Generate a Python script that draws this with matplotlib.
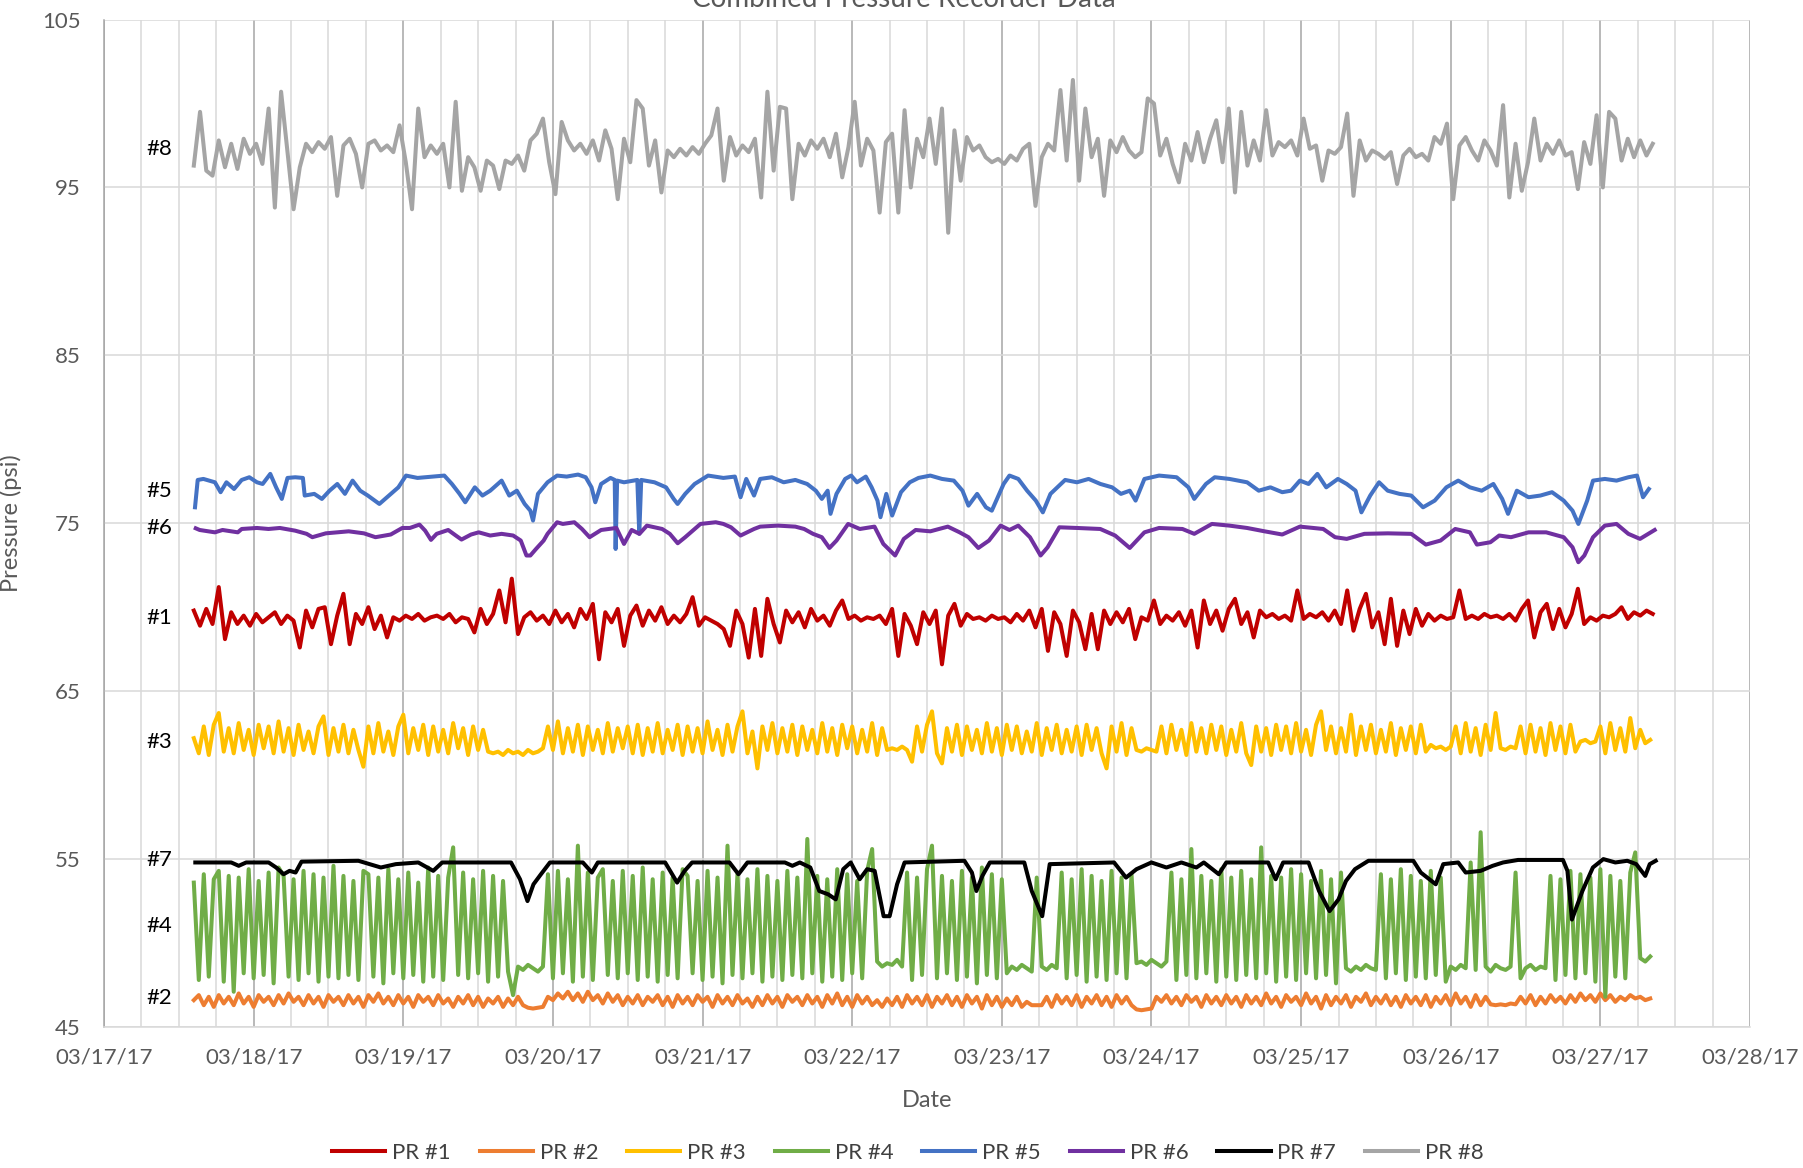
import datetime as dt
import numpy as np
import matplotlib
matplotlib.use("Agg")
import matplotlib.pyplot as plt
import matplotlib.dates as mdates

plt.rcParams['font.family'] = ['Lato', 'DejaVu Sans']

# sampling: first sample 0.6 day after 03/17/17
T_START = 0.6
STEP_FAST = 1 / 30   # PR #2, #3, #4
STEP_HOUR = 1 / 24   # PR #1, #8

PR1 = [
    69.8, 68.9, 69.9, 69.0, 71.2, 68.1, 69.7, 69.0, 69.5, 68.9, 69.6, 69.1, 69.4, 69.7, 69.0, 69.5, 69.2, 67.6, 69.8, 68.8, 69.9, 70.0, 67.8, 69.5,
    70.8, 67.8, 69.6, 69.0, 70.0, 68.7, 69.5, 68.2, 69.4, 69.2, 69.5, 69.3, 69.6, 69.2, 69.4, 69.5, 69.3, 69.6, 69.1, 69.4, 69.3, 68.5, 69.9, 69.0,
    69.6, 71.0, 69.1, 71.7, 68.4, 69.4, 69.7, 69.2, 69.5, 69.0, 69.8, 69.1, 69.6, 68.8, 69.9, 69.3, 70.2, 66.9, 69.7, 69.1, 69.9, 67.7, 69.5, 70.1,
    68.9, 69.8, 69.2, 70.0, 69.0, 69.5, 69.1, 69.6, 70.6, 68.9, 69.4, 69.2, 69.0, 68.7, 67.7, 69.8, 69.0, 67.0, 69.9, 67.1, 70.5, 69.0, 67.9, 69.8,
    69.1, 69.7, 68.8, 69.9, 69.2, 69.5, 68.9, 69.8, 70.4, 69.3, 69.5, 69.2, 69.4, 69.3, 69.5, 69.0, 69.9, 67.1, 69.6, 68.9, 67.8, 69.7, 69.0, 69.8,
    66.6, 69.5, 70.2, 68.9, 69.6, 69.3, 69.4, 69.2, 69.5, 69.3, 69.4, 69.1, 69.6, 69.2, 69.8, 68.8, 69.9, 67.4, 69.7, 69.0, 67.1, 69.8, 69.1, 67.5,
    69.6, 67.5, 69.8, 69.0, 69.7, 69.1, 69.9, 68.1, 69.4, 69.2, 70.4, 69.0, 69.5, 69.2, 69.7, 68.9, 69.8, 67.6, 70.4, 69.0, 69.8, 68.6, 69.9, 70.5,
    69.0, 69.7, 68.2, 69.8, 69.4, 69.6, 69.3, 69.5, 69.2, 71.0, 69.3, 69.6, 69.4, 69.7, 69.2, 69.8, 69.0, 71.0, 68.6, 69.9, 70.8, 68.8, 69.7, 67.8,
    70.5, 67.7, 69.8, 68.4, 69.9, 68.9, 69.6, 69.2, 69.5, 69.3, 69.4, 71.0, 69.3, 69.5, 69.3, 69.6, 69.4, 69.5, 69.3, 69.6, 69.2, 69.9, 70.4, 68.2,
    69.7, 70.2, 68.7, 69.9, 68.8, 69.6, 71.1, 69.0, 69.4, 69.2, 69.5, 69.4, 69.6, 70.0, 69.3, 69.7, 69.5, 69.8, 69.6,
]

PR2 = [
    46.6, 46.9, 46.3, 46.8, 46.2, 46.9, 46.4, 46.8, 46.3, 47.0, 46.4, 46.8, 46.2, 46.9, 46.5, 46.8, 46.3, 46.9, 46.4, 47.0, 46.5, 46.8, 46.3, 46.9, 46.4, 46.8, 46.2, 46.9, 46.5, 46.8,
    46.3, 46.9, 46.4, 46.8, 46.2, 46.9, 46.5, 47.0, 46.4, 46.8, 46.3, 46.9, 46.4, 46.8, 46.2, 46.9, 46.5, 46.8, 46.3, 46.9, 46.4, 46.7, 46.2, 46.8, 46.4, 46.9, 46.3, 46.8, 46.2, 46.7,
    46.4, 46.8, 46.2, 46.7, 46.3, 46.8, 46.3, 46.15, 46.1, 46.15, 46.2, 46.8, 46.6, 47.0, 46.7, 47.1, 46.6, 47.0, 46.5, 47.1, 46.6, 46.9, 46.4, 47.0, 46.5, 46.9, 46.3, 46.8, 46.4, 46.9,
    46.3, 46.8, 46.5, 46.9, 46.3, 46.8, 46.2, 46.9, 46.4, 46.8, 46.3, 46.9, 46.5, 46.8, 46.2, 46.9, 46.4, 46.8, 46.3, 46.9, 46.4, 46.7, 46.2, 46.8, 46.3, 46.9, 46.4, 46.8, 46.2, 46.9,
    46.5, 46.8, 46.3, 46.9, 46.4, 46.8, 46.2, 46.9, 46.4, 47.0, 46.3, 46.8, 46.2, 46.9, 46.4, 46.8, 46.3, 46.6, 46.2, 46.7, 46.3, 46.8, 46.2, 46.9, 46.4, 46.8, 46.3, 46.9, 46.2, 46.8,
    46.4, 46.9, 46.3, 46.8, 46.2, 46.9, 46.4, 46.8, 46.1, 46.9, 46.3, 46.8, 46.2, 46.7, 46.3, 46.8, 46.2, 46.5, 46.3, 46.3, 46.3, 46.8, 46.2, 46.9, 46.4, 46.8, 46.3, 46.9, 46.2, 46.8,
    46.4, 46.9, 46.3, 46.8, 46.2, 46.9, 46.4, 46.8, 46.3, 46.05, 46.0, 46.05, 46.1, 46.8, 46.5, 46.9, 46.4, 46.8, 46.3, 46.9, 46.5, 46.8, 46.2, 46.9, 46.4, 46.8, 46.3, 46.9, 46.4, 46.8,
    46.2, 46.9, 46.4, 46.8, 46.3, 47.0, 46.4, 46.8, 46.2, 46.9, 46.5, 46.8, 46.3, 47.0, 46.4, 46.8, 46.1, 46.9, 46.3, 46.8, 46.4, 46.9, 46.2, 46.8, 46.5, 47.0, 46.3, 46.8, 46.4, 46.9,
    46.3, 46.8, 46.2, 46.9, 46.4, 46.8, 46.3, 46.9, 46.2, 46.8, 46.4, 46.9, 46.3, 47.0, 46.4, 46.8, 46.2, 46.9, 46.3, 46.8, 46.35, 46.3, 46.35, 46.3, 46.4, 46.35, 46.8, 46.4, 46.9, 46.3,
    46.8, 46.4, 46.9, 46.5, 46.8, 46.4, 46.9, 46.5, 47.0, 46.6, 46.9, 46.5, 47.0, 46.6, 46.9, 46.5, 46.8, 46.6, 46.9, 46.7, 46.8, 46.6, 46.7,
]

PR3 = [
    62.2, 61.3, 62.9, 61.2, 63.0, 63.7, 61.4, 62.8, 61.3, 63.1, 61.5, 62.7, 61.2, 63.0, 61.6, 62.9, 61.3, 63.2, 61.4, 62.8, 61.2, 63.0, 61.5, 62.6, 61.3, 62.9, 63.5, 61.2, 62.8, 61.4,
    63.0, 61.3, 62.7, 61.5, 60.5, 62.9, 61.3, 63.1, 61.4, 62.6, 61.2, 62.9, 63.6, 61.3, 62.8, 61.5, 63.0, 61.2, 62.9, 61.4, 62.7, 61.3, 63.1, 61.6, 62.8, 61.2, 62.9, 61.5, 62.7, 61.4,
    61.3, 61.4, 61.2, 61.5, 61.3, 61.4, 61.2, 61.5, 61.3, 61.4, 61.6, 62.9, 61.5, 63.2, 61.3, 62.8, 61.4, 63.0, 61.2, 62.9, 61.5, 62.7, 61.3, 63.1, 61.4, 62.8, 61.6, 62.9, 61.3, 63.0,
    61.2, 62.8, 61.4, 63.1, 61.3, 62.7, 61.5, 63.0, 61.2, 62.9, 61.4, 62.8, 61.3, 63.2, 61.5, 62.7, 61.2, 63.0, 61.4, 62.9, 63.8, 61.3, 62.6, 60.4, 62.9, 61.5, 63.1, 61.3, 62.8, 61.4,
    63.0, 61.2, 62.9, 61.5, 62.7, 61.3, 63.1, 61.4, 62.8, 61.2, 63.0, 61.6, 62.9, 61.3, 62.7, 61.4, 63.1, 61.2, 62.8, 61.5, 61.6, 61.5, 61.7, 61.5, 60.8, 62.9, 61.4, 63.0, 63.8, 61.3,
    60.7, 62.8, 61.4, 63.0, 61.2, 62.9, 61.5, 62.7, 61.3, 63.1, 61.4, 62.8, 61.2, 63.0, 61.5, 62.9, 61.3, 62.6, 61.4, 63.1, 61.2, 62.8, 61.5, 63.0, 61.3, 62.7, 61.4, 62.9, 61.2, 63.0,
    61.5, 62.8, 61.3, 60.4, 62.9, 61.4, 63.1, 61.2, 62.8, 61.5, 61.4, 61.6, 61.5, 61.4, 62.9, 61.3, 63.0, 61.5, 62.7, 61.2, 63.1, 61.4, 62.8, 61.3, 63.0, 61.5, 62.9, 61.2, 62.7, 61.4,
    63.1, 61.3, 60.6, 62.9, 61.4, 62.8, 61.2, 63.0, 61.5, 62.9, 61.3, 63.1, 61.4, 62.7, 61.2, 63.0, 63.8, 61.5, 62.9, 61.3, 62.8, 61.4, 63.6, 61.2, 62.9, 61.5, 63.0, 61.3, 62.7, 61.4,
    63.1, 61.2, 62.8, 61.5, 62.9, 61.3, 63.0, 61.4, 61.8, 61.6, 61.7, 61.5, 61.7, 62.9, 61.3, 63.1, 61.4, 62.8, 61.2, 63.0, 61.5, 63.7, 61.6, 61.5, 61.7, 61.6, 62.9, 61.3, 63.0, 61.4,
    62.8, 61.2, 63.1, 61.5, 62.9, 61.3, 63.0, 61.4, 62.0, 62.1, 61.9, 62.0, 62.9, 61.3, 63.1, 61.5, 62.8, 61.4, 63.4, 61.6, 62.7, 61.9, 62.1,
]

PR4 = [
    53.6, 47.8, 54.1, 48.0, 53.8, 54.3, 47.7, 54.0, 47.1, 53.9, 48.2, 54.4, 47.9, 53.7, 48.1, 54.2, 47.6, 54.5, 54.0, 48.0, 53.8, 47.8, 54.3, 48.2, 54.1, 47.7, 53.9, 48.0, 54.6, 47.9,
    54.0, 48.1, 53.7, 47.8, 54.3, 54.1, 48.0, 53.9, 47.6, 54.4, 48.2, 53.8, 47.9, 54.2, 48.1, 53.6, 47.7, 54.5, 48.0, 54.0, 47.8, 53.9, 55.7, 48.1, 54.2, 47.9, 53.8, 48.2, 54.3, 47.7,
    54.0, 48.0, 53.7, 48.3, 46.9, 48.6, 48.4, 48.7, 48.5, 48.3, 48.6, 54.1, 47.9, 54.3, 48.2, 53.8, 47.7, 55.8, 48.0, 54.2, 47.8, 53.9, 54.4, 48.1, 53.7, 47.9, 54.3, 48.2, 54.0, 47.8,
    54.5, 48.0, 53.8, 47.7, 54.2, 48.1, 53.9, 47.9, 54.4, 54.0, 48.2, 53.7, 47.8, 54.3, 48.0, 53.9, 47.6, 55.8, 48.1, 54.1, 47.9, 53.8, 48.2, 54.4, 47.7, 54.0, 48.0, 53.7, 47.8, 54.3,
    48.1, 53.9, 47.9, 56.2, 48.2, 54.0, 47.7, 53.8, 48.0, 54.4, 47.8, 54.1, 48.2, 53.7, 47.9, 54.3, 55.6, 48.9, 48.6, 48.8, 48.7, 49.0, 48.6, 54.2, 47.8, 53.9, 48.1, 54.4, 55.8, 47.9,
    54.0, 48.2, 53.7, 47.8, 54.3, 48.0, 53.9, 47.6, 54.5, 48.1, 54.1, 47.9, 53.8, 48.2, 48.6, 48.4, 48.7, 48.5, 48.3, 53.9, 48.6, 48.4, 48.7, 48.5, 54.2, 47.9, 53.8, 48.1, 54.4, 47.7,
    54.0, 48.0, 53.7, 47.8, 54.3, 48.2, 53.9, 47.9, 54.1, 48.8, 48.9, 48.7, 49.0, 48.8, 48.6, 48.9, 54.2, 47.8, 53.8, 48.1, 55.6, 47.9, 54.0, 48.2, 53.7, 47.7, 54.4, 48.0, 53.9, 47.8,
    54.3, 48.1, 53.8, 47.9, 55.7, 48.2, 54.0, 47.7, 53.9, 48.0, 54.4, 47.8, 54.1, 48.2, 53.7, 47.9, 54.3, 48.1, 53.8, 47.6, 54.2, 48.5, 48.3, 48.6, 48.4, 48.7, 48.5, 48.4, 54.1, 47.9,
    53.8, 48.2, 54.4, 47.8, 54.0, 48.0, 53.7, 47.9, 54.3, 48.1, 53.9, 47.7, 48.6, 48.4, 48.7, 48.5, 54.8, 48.4, 56.6, 48.6, 48.3, 48.7, 48.5, 48.4, 48.6, 54.2, 47.9, 48.5, 48.7, 48.4,
    48.6, 48.5, 54.0, 47.8, 53.8, 48.1, 54.3, 47.9, 54.1, 48.2, 53.9, 47.7, 54.4, 46.8, 54.0, 48.0, 53.7, 47.9, 54.2, 55.4, 49.1, 48.9, 49.2,
]

# PR #5, #6, #7 : (day after 03/17, psi)
PR5_T = [
    0.608, 0.626, 0.664, 0.741, 0.779, 0.818, 0.869, 0.920, 0.971, 1.022,
    1.060, 1.111, 1.150, 1.188, 1.226, 1.278, 1.329, 1.341, 1.405, 1.456,
    1.507, 1.559, 1.610, 1.661, 1.712, 1.763, 1.840, 1.891, 1.967, 2.018,
    2.095, 2.197, 2.274, 2.325, 2.376, 2.414, 2.478, 2.529, 2.581, 2.657,
    2.708, 2.759, 2.811, 2.849, 2.867, 2.900, 2.964, 3.028, 3.092, 3.168,
    3.219, 3.258, 3.283, 3.322, 3.385, 3.413, 3.419, 3.429, 3.475, 3.564,
    3.577, 3.590, 3.679, 3.756, 3.807, 3.833, 3.884, 3.947, 4.037, 4.139,
    4.216, 4.254, 4.292, 4.344,
    4.385, 4.463, 4.542, 4.620, 4.699, 4.757, 4.797, 4.836, 4.855, 4.895,
    4.953, 4.993, 5.032, 5.091, 5.130, 5.169, 5.189, 5.228, 5.267, 5.326,
    5.385, 5.443, 5.522, 5.600, 5.679, 5.737, 5.777, 5.835, 5.894, 5.933,
    5.973, 6.012, 6.051, 6.110, 6.169, 6.227, 6.274, 6.325, 6.423, 6.502,
    6.580, 6.659, 6.737, 6.796, 6.855, 6.894, 6.953, 7.051, 7.168, 7.247,
    7.286, 7.364, 7.423, 7.521, 7.639, 7.717, 7.795, 7.874, 7.933, 7.992,
    8.050, 8.109, 8.168, 8.246, 8.305, 8.364, 8.403, 8.462, 8.521, 8.579,
    8.658, 8.736, 8.815, 8.893, 8.971, 9.050, 9.128, 9.207, 9.285, 9.344,
    9.383, 9.442, 9.520, 9.599, 9.677, 9.755, 9.814, 9.853, 9.912, 9.951,
    10.030, 10.108, 10.187, 10.245, 10.285, 10.324,
]
PR5_V = [
    75.95, 77.58, 77.64, 77.44, 76.85, 77.44, 77.04, 77.58, 77.74, 77.44,
    77.34, 77.94, 77.14, 76.45, 77.70, 77.74, 77.70, 76.65, 76.75, 76.45,
    76.94, 77.34, 76.75, 77.54, 76.94, 76.65, 76.15, 76.55, 77.14, 77.84,
    77.70, 77.78, 77.84, 77.34, 76.75, 76.25, 77.14, 76.65, 76.94, 77.54,
    76.65, 76.94, 76.15, 75.75, 75.16, 76.75, 77.44, 77.84, 77.78, 77.90,
    77.74, 77.14, 76.25, 77.34, 77.70, 77.58, 73.47, 77.54, 77.44, 77.58,
    74.37, 77.58, 77.44, 77.14, 76.45, 76.15, 76.75, 77.34, 77.84, 77.70,
    77.78, 76.55, 77.64, 76.65,
    77.64, 77.74, 77.44, 77.58, 77.34, 76.94, 76.45, 76.94, 75.56, 76.75,
    77.64, 77.84, 77.44, 77.78, 77.14, 76.35, 75.36, 76.75, 75.46, 76.85,
    77.44, 77.70, 77.84, 77.64, 77.54, 76.94, 76.05, 76.75, 75.95, 75.75,
    76.55, 77.34, 77.84, 77.64, 76.94, 76.35, 75.65, 76.75, 77.58, 77.44,
    77.64, 77.34, 77.14, 76.75, 76.94, 76.35, 77.64, 77.84, 77.74, 77.14,
    76.45, 77.34, 77.74, 77.64, 77.44, 76.94, 77.14, 76.85, 76.94, 77.54,
    77.34, 77.94, 77.14, 77.64, 77.34, 76.94, 75.65, 76.65, 77.44, 76.94,
    76.75, 76.65, 75.95, 76.35, 77.14, 77.54, 77.14, 76.94, 77.34, 76.45,
    75.56, 76.94, 76.55, 76.65, 76.85, 76.35, 75.75, 74.96, 76.35, 77.54,
    77.64, 77.54, 77.74, 77.84, 76.55, 77.04,
]

PR6_T = [
    0.613, 0.639, 0.741, 0.792, 0.894, 0.920, 1.022, 1.099, 1.175, 1.277,
    1.354, 1.392, 1.482, 1.635, 1.737, 1.814, 1.916, 1.993, 2.044, 2.108,
    2.146, 2.185, 2.223, 2.300, 2.351, 2.389, 2.453, 2.504, 2.581, 2.657,
    2.734, 2.785, 2.823, 2.849, 2.887, 2.938, 2.964, 3.028, 3.066, 3.143,
    3.194, 3.245, 3.322, 3.424, 3.475, 3.526, 3.578, 3.628, 3.730, 3.781,
    3.834, 3.884, 3.986, 4.088, 4.139, 4.190, 4.254, 4.344, 4.385, 4.503,
    4.620, 4.679, 4.738, 4.797, 4.848, 4.895, 4.973, 5.051, 5.149, 5.208,
    5.287, 5.345, 5.424, 5.522, 5.639, 5.718, 5.777, 5.843, 5.914, 5.992,
    6.051, 6.110, 6.188, 6.259, 6.306, 6.384, 6.502, 6.658, 6.757, 6.855,
    6.953, 7.051, 7.207, 7.286, 7.404, 7.521, 7.639, 7.756, 7.874, 7.992,
    8.148, 8.227, 8.305, 8.423, 8.580, 8.736, 8.834, 8.932, 9.030, 9.128,
    9.175, 9.265, 9.324, 9.403, 9.520, 9.638, 9.755, 9.814, 9.853, 9.893,
    9.951, 10.030, 10.108, 10.187, 10.265, 10.363,
]
PR6_V = [
    74.70, 74.60, 74.46, 74.60, 74.46, 74.66, 74.72, 74.66, 74.72, 74.56,
    74.37, 74.17, 74.40, 74.52, 74.40, 74.17, 74.33, 74.72, 74.72, 74.92,
    74.56, 74.01, 74.37, 74.60, 74.27, 74.03, 74.33, 74.46, 74.27, 74.37,
    74.27, 73.97, 73.08, 73.08, 73.47, 73.97, 74.37, 75.06, 74.96, 75.06,
    74.66, 74.17, 74.60, 74.72, 73.77, 74.60, 74.37, 74.86, 74.66, 74.37,
    73.81, 74.17, 74.96, 75.06, 74.96, 74.76, 74.27, 74.66, 74.80, 74.86,
    74.80, 74.66, 74.37, 74.17, 73.53, 73.97, 74.96, 74.66, 74.80, 73.77,
    73.08, 74.07, 74.60, 74.52, 74.80, 74.46, 74.17, 73.53, 73.97, 74.86,
    74.60, 74.86, 74.17, 73.08, 73.57, 74.76, 74.72, 74.66, 74.27, 73.53,
    74.46, 74.72, 74.66, 74.37, 74.96, 74.86, 74.72, 74.52, 74.33, 74.80,
    74.66, 74.17, 74.07, 74.37, 74.40, 74.37, 73.73, 73.97, 74.66, 74.46,
    73.73, 73.87, 74.27, 74.17, 74.46, 74.46, 74.17, 73.57, 72.68, 73.08,
    74.17, 74.86, 74.96, 74.37, 74.07, 74.60,
]

PR7_T = [
    0.61, 0.85, 0.9, 0.95, 1.1, 1.15, 1.2, 1.24, 1.28, 1.32,
    1.7, 1.85, 1.95, 2.1, 2.2, 2.26, 2.72, 2.78, 2.83, 2.87,
    2.92, 2.98, 3.2, 3.26, 3.3, 3.75, 3.83, 3.88, 3.93, 4.18,
    4.24, 4.3, 4.55, 4.6, 4.65, 4.72, 4.78, 4.84, 4.89, 4.94,
    4.99, 5.05, 5.1, 5.15, 5.21, 5.25, 5.3, 5.35, 5.75, 5.8,
    5.83, 5.87, 5.92, 6.15, 6.2, 6.27, 6.32, 6.75, 6.83, 6.9,
    7.0, 7.1, 7.2, 7.3, 7.35, 7.45, 7.5, 7.78, 7.83, 7.88,
    8.05, 8.12, 8.19, 8.25, 8.3, 8.36, 8.45, 8.75, 8.8, 8.9,
    8.95, 9.05, 9.1, 9.2, 9.28, 9.35, 9.45, 9.75, 9.78, 9.81,
    9.88, 9.95, 10.02, 10.1, 10.18, 10.24, 10.3, 10.33, 10.37,
]
PR7_V = [
    54.8, 54.8, 54.6, 54.8, 54.8, 54.5, 54.1, 54.3, 54.2, 54.85,
    54.9, 54.5, 54.7, 54.8, 54.3, 54.8, 54.8, 53.8, 52.5, 53.5,
    54.1, 54.8, 54.8, 54.2, 54.8, 54.8, 53.6, 54.3, 54.8, 54.8,
    54.1, 54.8, 54.8, 54.6, 54.8, 54.5, 53.1, 52.9, 52.6, 54.4,
    54.8, 53.8, 54.4, 54.3, 51.6, 51.6, 53.5, 54.8, 54.9, 54.2,
    53.1, 54.0, 54.8, 54.8, 53.1, 51.6, 54.7, 54.8, 53.9, 54.4,
    54.8, 54.5, 54.8, 54.5, 54.8, 54.1, 54.8, 54.8, 53.8, 54.8,
    54.8, 53.1, 51.9, 52.6, 53.7, 54.4, 54.9, 54.9, 54.2, 53.5,
    54.7, 54.8, 54.2, 54.3, 54.6, 54.8, 54.95, 54.95, 54.3, 51.4,
    53.1, 54.5, 55.0, 54.8, 54.9, 54.7, 54.0, 54.7, 54.9,
]

PR8 = [
    96.3, 99.5, 96.0, 95.7, 97.8, 96.2, 97.6, 96.1, 97.9, 97.0, 97.6, 96.4, 99.7, 93.8, 100.7, 97.2, 93.7, 96.2, 97.6, 97.1, 97.7, 97.3, 98.0, 94.5,
    97.5, 97.9, 97.0, 95.0, 97.6, 97.8, 97.2, 97.5, 97.1, 98.7, 96.5, 93.7, 99.7, 96.8, 97.5, 97.0, 97.6, 95.0, 100.1, 94.8, 96.8, 96.2, 94.8, 96.6,
    96.3, 94.9, 96.6, 96.4, 96.9, 96.0, 97.8, 98.2, 99.1, 96.5, 94.6, 98.9, 97.8, 97.2, 97.6, 97.0, 97.8, 96.6, 98.4, 97.3, 94.3, 97.9, 96.5, 100.2,
    99.7, 96.3, 97.8, 94.7, 97.2, 96.8, 97.3, 96.9, 97.4, 97.0, 97.6, 98.1, 99.7, 95.4, 98.0, 96.9, 97.5, 97.1, 97.9, 94.4, 100.7, 96.0, 99.8, 99.7,
    94.3, 97.6, 96.9, 97.8, 97.3, 97.9, 96.8, 98.2, 95.6, 97.4, 100.1, 96.3, 97.9, 97.2, 93.5, 97.7, 98.2, 93.5, 99.6, 95.0, 97.9, 96.8, 99.1, 96.4,
    99.7, 92.3, 98.4, 95.4, 98.0, 97.2, 97.5, 96.8, 96.5, 96.7, 96.4, 96.9, 96.6, 97.3, 97.6, 93.9, 96.8, 97.6, 97.2, 100.8, 96.6, 101.4, 95.4, 99.7,
    96.8, 97.9, 94.5, 97.8, 97.1, 98.0, 97.2, 96.8, 97.1, 100.3, 100.0, 96.9, 97.9, 96.4, 95.3, 97.6, 96.6, 98.3, 96.5, 97.9, 99.0, 96.5, 99.7, 94.7,
    99.5, 96.3, 97.8, 96.6, 99.6, 96.9, 97.7, 97.4, 97.8, 96.9, 99.1, 97.3, 97.5, 95.4, 97.2, 97.0, 97.4, 99.4, 94.5, 97.8, 96.6, 97.2, 97.0, 96.7,
    97.1, 95.2, 96.9, 97.3, 96.8, 97.0, 96.6, 98.0, 97.6, 98.8, 94.3, 97.5, 98.0, 97.2, 96.6, 97.8, 97.2, 96.3, 99.9, 94.4, 97.6, 94.8, 96.5, 99.1,
    96.6, 97.6, 97.0, 97.8, 96.9, 97.1, 94.9, 97.7, 96.4, 99.3, 95.0, 99.5, 99.1, 96.6, 97.9, 96.8, 97.8, 96.9, 97.6,
]

SERIES_NAMES = ['PR #1', 'PR #2', 'PR #3', 'PR #4', 'PR #5', 'PR #6', 'PR #7', 'PR #8']
COLORS = ['#C00000', '#ED7D31', '#FFC000', '#70AD47', '#4472C4', '#7030A0', '#000000', '#A5A5A5']

TAGS = ['#8', '#5', '#6', '#1', '#3', '#7', '#4', '#2']
TAG_Y = [97.3, 76.9, 74.7, 69.35, 62.0, 54.95, 51.0, 46.7]
TAG_DAY = 0.37


def main():
    base = mdates.date2num(dt.datetime(2017, 3, 17))

    def regular(vals, step):
        return base + T_START + np.arange(len(vals)) * step

    data = [
        (regular(PR1, STEP_HOUR), PR1),
        (regular(PR2, STEP_FAST), PR2),
        (regular(PR3, STEP_FAST), PR3),
        (regular(PR4, STEP_FAST), PR4),
        (base + np.array(PR5_T), PR5_V),
        (base + np.array(PR6_T), PR6_V),
        (base + np.array(PR7_T), PR7_V),
        (regular(PR8, STEP_HOUR), PR8),
    ]

    fig = plt.figure(figsize=(18.03, 11.68), dpi=100)
    ax = fig.add_axes([0.0577, 0.1207, 0.9129, 0.8626])

    lines = []
    for (x, y), name, col in zip(data, SERIES_NAMES, COLORS):
        ln, = ax.plot(x, y, color=col, lw=2.9, label=name, solid_joinstyle='round')
        lines.append(ln)

    for tag, yv in zip(TAGS, TAG_Y):
        ax.text(base + TAG_DAY, yv, tag, ha='center', va='center', fontsize=16, color='black')

    ax.set_xlim(base, mdates.date2num(dt.datetime(2017, 3, 28)))
    ax.set_ylim(45, 105)
    ax.set_yticks(np.arange(45, 106, 10))
    ax.xaxis.set_major_locator(mdates.DayLocator())
    ax.xaxis.set_major_formatter(mdates.DateFormatter('%m/%d/%y'))
    ax.xaxis.set_minor_locator(mdates.HourLocator(byhour=[6, 12, 18]))

    ax.set_axisbelow(True)
    ax.yaxis.grid(True, color='#d9d9d9', lw=1.1)
    ax.xaxis.grid(True, which='major', color='#a6a6a6', lw=1.1)
    ax.xaxis.grid(True, which='minor', color='#d9d9d9', lw=1.1)
    for s in ['top', 'right']:
        ax.spines[s].set_visible(False)
    ax.spines['left'].set_color('#a6a6a6')
    ax.spines['left'].set_linewidth(1.1)
    ax.spines['bottom'].set_color('#d9d9d9')
    ax.spines['bottom'].set_linewidth(1.1)

    ax.tick_params(axis='both', which='both', length=0, labelsize=16, labelcolor='#595959')
    ax.tick_params(axis='y', pad=17)
    ax.tick_params(axis='x', pad=15)

    ax.set_xlabel('Date', fontsize=17, color='#595959', labelpad=16)
    ax.set_ylabel('Pressure (psi)', fontsize=17, color='#595959', labelpad=14)

    fig.text(0.5015, 0.9943, 'Combined Pressure Recorder Data', ha='center', va='baseline',
             fontsize=20, color='#595959')

    leg = ax.legend(lines, SERIES_NAMES, loc='center', bbox_to_anchor=(0.5035, 0.0128),
                    bbox_transform=fig.transFigure, ncol=8, frameon=False, fontsize=16,
                    handlelength=2.4, handletextpad=0.3, columnspacing=1.3)
    for t in leg.get_texts():
        t.set_color('#404040')

    fig.savefig('out.png', dpi=100)


if __name__ == "__main__":
    main()
